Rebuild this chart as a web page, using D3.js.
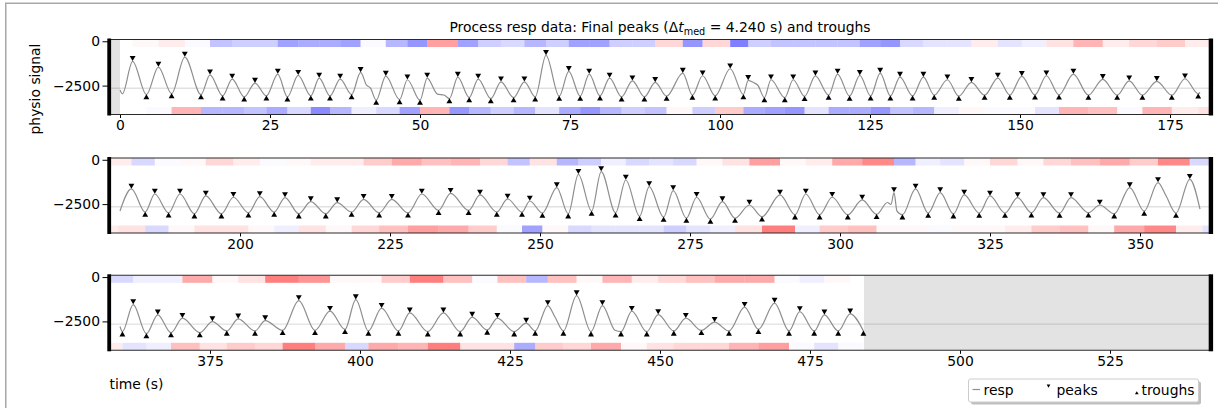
<!DOCTYPE html>
<html><head><meta charset="utf-8">
<script src="https://cdn.jsdelivr.net/npm/d3@7"></script>
<style>
body{margin:0;background:#fff;}
svg text{font-family:"DejaVu Sans",sans-serif;fill:#000;}
</style></head><body>
<svg id="c" width="1218" height="408"></svg>
<script>
// ---------------- data ----------------
const peakT = [2.1,6.4,10.8,15.0,18.7,22.5,26.3,29.7,33.2,36.7,40.1,44.3,47.9,51.2,56.3,59.7,63.5,67.4,71.0,74.8,78.2,81.6,85.4,89.2,93.8,97.1,101.7,104.7,108.5,112.2,115.9,119.6,123.3,126.7,130.0,133.9,137.9,141.9,146.3,150.3,154.4,158.9,163.8,168.2,172.8,177.5,
181.9,185.8,190.0,194.3,198.9,203.3,207.5,211.8,216.2,220.6,225.3,230.3,235.1,240.0,244.6,248.3,252.8,256.4,260.2,264.3,268.2,272.2,276.1,280.4,284.9,290.0,294.3,298.7,303.7,309.0,312.6,316.7,320.7,325.0,329.6,333.9,338.5,343.3,348.3,353.0,358.3,
362.2,366.3,370.4,375.4,379.7,384.2,389.8,395.0,399.3,403.6,408.3,413.9,418.7,422.9,427.7,431.3,436.1,440.4,445.3,449.7,454.3,459.1,464.1,469.1,473.3,477.4,481.7];
const peakV = [-1130,-1455,-890,-1890,-2130,-2360,-1850,-1920,-2075,-2130,-1755,-1965,-2170,-2075,-2020,-2130,-2285,-2285,-795,-1700,-1850,-2075,-2230,-2320,-1795,-1945,-1550,-2205,-2170,-2170,-1950,-1850,-1925,-1795,-2020,-2020,-2170,-2320,-2075,-1980,-1945,-1850,-2150,-2230,-2260,-2115,
-1645,-1930,-1930,-2040,-2115,-2075,-2130,-2360,-2415,-2230,-2230,-1930,-1890,-1985,-2210,-2325,-1570,-820,-665,-1140,-1510,-1735,-2115,-2360,-2550,-1985,-1930,-2115,-2265,-1850,-1645,-1850,-1985,-2040,-2130,-2130,-2130,-2550,-1570,-1285,-1100,
-1550,-2130,-2320,-2510,-2360,-2455,-1325,-1925,-1270,-1755,-2020,-2020,-2260,-2320,-2600,-1605,-1045,-1605,-1925,-2115,-2320,-2545,-1700,-1470,-1945,-2130,-2075];
const troughT = [4.4,8.6,13.5,17.1,20.7,24.4,27.9,31.8,35.0,38.6,42.7,46.6,50.0,54.9,58.2,61.8,65.6,69.2,73.2,76.7,80.0,83.6,87.4,91.1,95.4,99.2,103.9,107.4,110.8,114.1,118.1,121.6,125.1,128.4,132.1,135.7,139.8,144.1,148.3,152.5,156.5,161.4,166.2,170.4,175.3,179.7,
184.2,188.1,192.4,196.9,201.4,205.7,209.8,214.3,218.6,223.2,228.0,233.1,238.1,242.8,247.0,250.4,254.7,258.6,262.6,266.6,270.6,274.4,278.4,282.5,287.0,292.5,296.6,301.3,306.1,310.4,314.7,318.9,323.2,327.5,331.9,336.6,341.4,345.7,350.7,356.0,
360.4,364.4,368.5,373.3,377.8,382.5,387.1,392.5,397.5,401.4,406.4,411.3,416.7,421.2,425.7,429.2,433.9,438.5,443.5,447.8,452.3,456.9,461.5,466.4,471.5,475.7,479.7,483.9];
const troughV = [-3005,-2950,-3005,-3080,-3135,-3080,-3135,-3080,-3080,-3005,-3320,-3290,-3320,-3230,-3175,-3230,-3175,-3135,-3095,-3095,-3080,-3135,-3135,-3095,-3040,-3080,-3005,-3175,-3175,-3110,-3040,-3095,-3080,-3080,-3080,-3040,-3095,-3040,-3040,-3025,-3025,-3040,-3040,-3040,-3040,-2965,
-2950,-2990,-3045,-3045,-2990,-2950,-3045,-3045,-2950,-2990,-2995,-2855,-2855,-2950,-2950,-3005,-3045,-2895,-2990,-3190,-3230,-3290,-3345,-3290,-3215,-3100,-3100,-3100,-3080,-3100,-3005,-3045,-3005,-3005,-2990,-3005,-2990,-3045,-2895,-3005,
-3080,-3190,-3135,-3135,-3040,-3040,-3005,-3005,-2950,-3040,-3040,-3080,-3080,-2985,-3080,-3040,-3040,-3080,-3080,-3080,-3040,-3005,-3040,-2950,-3040,-3040,-3040,-3040];
// other visible signal points (segment ends, shoulders, spikes)
const extraT = [0, 0.4, 41.1, 41.7, 52.9, 54.0, 105.6, 106.3, 180, 307.9, 308.5, 309.5, 354.3, 360, 432.5, 442.5];
const extraV = [-2750, -2960, -2480, -2620, -2980, -3030, -2330, -2480, -2890, -2410, -2520, -2900, -2000, -2790, -2250, -3000];

const panelStarts = [0, 180, 360];
const panelSpan = 180;
const dataEnd = 484;
const medianInterval = 4.24;
const medianLevel = -2650;
const xTickValues = [0,25,50,75,100,125,150,175,200,225,250,275,300,325,350,375,400,425,450,475,500,525];
const yTickValues = [0, -2500];
const legendLabels = ["resp", "peaks", "troughs"];

// ---------------- layout ----------------
const L = 109.5, R = 1210.5, PH = 75, tops = [39.5, 158, 275.3];
const pad = 1.75;
const yDomain = [-4130, 100];
const FS = "13.9px";
const bandH = 7.5;
const svg = d3.select("#c");

svg.append("rect").attr("x",5.75).attr("y",3.25).attr("width",1400).attr("height",600)
  .attr("fill","none").attr("stroke","#a8a8a8").attr("stroke-width",1.5);

const bandColor = d3.scaleLinear().domain([-0.27,0,0.27])
  .range(["#0000ff","#ffffff","#ff0000"]).clamp(true);

const peaks = peakT.map((t,i)=>({t, v:peakV[i]}));
const troughs = troughT.map((t,i)=>({t, v:troughV[i]}));
const extras = extraT.map((t,i)=>({t, v:extraV[i]}));
const allPts = peaks.concat(troughs, extras).sort((a,b)=>a.t-b.t);

function intervals(arr){
  const out=[];
  for(let i=0;i<arr.length-1;i++){
    const d=arr[i+1].t-arr[i].t;
    out.push({t0:arr[i].t, t1:arr[i+1].t, dev:(d-medianInterval)/medianInterval});
  }
  return out;
}
const peakIv = intervals(peaks), troughIv = intervals(troughs);

panelStarts.forEach((s,k)=>{
  const top = tops[k], bot = top+PH;
  const x = d3.scaleLinear().domain([s-pad, s+panelSpan+pad]).range([L,R]);
  const y = d3.scaleLinear().domain(yDomain).range([bot, top]);
  const dStart = s, dEnd = Math.min(s+panelSpan, dataEnd);
  const g = svg.append("g");
  const cid = "clip"+k;
  g.append("clipPath").attr("id",cid).append("rect")
    .attr("x",L).attr("y",top).attr("width",R-L).attr("height",PH);
  const pg = g.append("g").attr("clip-path",`url(#${cid})`);

  // grey: no data
  if (x.domain()[0] < 0) pg.append("rect").attr("x",L).attr("y",top).attr("width",x(0)-L).attr("height",PH).attr("fill","#e3e3e3");
  if (x.domain()[1] > dataEnd) pg.append("rect").attr("x",x(dataEnd)).attr("y",top).attr("width",R-x(dataEnd)).attr("height",PH).attr("fill","#e3e3e3");

  // interval bands
  pg.selectAll(null).data(peakIv).join("rect")
    .attr("x",d=>x(d.t0)).attr("width",d=>x(d.t1)-x(d.t0))
    .attr("y",top).attr("height",bandH)
    .attr("fill",d=>bandColor(d.dev)).attr("fill-opacity",0.5);
  pg.selectAll(null).data(troughIv).join("rect")
    .attr("x",d=>x(d.t0)).attr("width",d=>x(d.t1)-x(d.t0))
    .attr("y",bot-bandH).attr("height",bandH)
    .attr("fill",d=>bandColor(d.dev)).attr("fill-opacity",0.5);

  // median level
  pg.append("line").attr("x1",L).attr("x2",R).attr("y1",y(medianLevel)).attr("y2",y(medianLevel))
    .attr("stroke","#000").attr("stroke-opacity",0.12).attr("stroke-width",1.3);

  // signal
  const pts = allPts.filter(p=>p.t>=dStart && p.t<=dEnd);
  pg.append("path").datum(pts)
    .attr("d", d3.line().x(p=>x(p.t)).y(p=>y(p.v)).curve(d3.curveMonotoneX))
    .attr("fill","none").attr("stroke","#8e8e8e").attr("stroke-width",1.2);

  const tri = d3.symbol().type(d3.symbolTriangle).size(15);
  pg.selectAll(null).data(peaks.filter(p=>p.t>=dStart && p.t<=dEnd)).join("path")
    .attr("d",tri).attr("transform",p=>`translate(${x(p.t)},${y(p.v)-3.6}) rotate(180)`).attr("fill","#000");
  pg.selectAll(null).data(troughs.filter(p=>p.t>=dStart && p.t<=dEnd)).join("path")
    .attr("d",tri).attr("transform",p=>`translate(${x(p.t)},${y(p.v)+3})`).attr("fill","#000");

  // axes
  const xa = g.append("g").attr("transform",`translate(0,${bot})`)
    .call(d3.axisBottom(x).tickValues(xTickValues.filter(v=>v>=x.domain()[0] && v<=x.domain()[1]))
      .tickSize(3.5).tickPadding(2.5).tickFormat(d3.format("d")));
  const ya = g.append("g").attr("transform",`translate(${L},0)`)
    .call(d3.axisLeft(y).tickValues(yTickValues).tickSize(7).tickPadding(2.5).tickFormat(d3.format("d")));
  [xa,ya].forEach(a=>{
    a.select(".domain").remove();
    a.attr("font-family",null).attr("font-size",null);
    a.selectAll("text").style("font-size",FS).attr("fill","#000");
    a.selectAll("line").attr("stroke","#000").attr("stroke-width",1);
  });

  // spines
  g.append("line").attr("x1",L).attr("x2",R).attr("y1",top).attr("y2",top).attr("stroke","#2a2a2a").attr("stroke-width",1.1);
  g.append("line").attr("x1",L).attr("x2",R).attr("y1",bot).attr("y2",bot).attr("stroke","#2a2a2a").attr("stroke-width",1.1);
  g.append("rect").attr("x",107.3).attr("y",top-1).attr("width",3.8).attr("height",PH+2).attr("fill","#000");
  g.append("rect").attr("x",1208.7).attr("y",top-1).attr("width",4.4).attr("height",PH+2).attr("fill","#000");
});

// title
const title = svg.append("text").attr("x",(L+R)/2).attr("y",31.5).attr("text-anchor","middle").style("font-size",FS);
title.append("tspan").text("Process resp data: Final peaks (Δ");
title.append("tspan").attr("font-style","italic").text("t");
title.append("tspan").attr("dy",3).style("font-size","9.7px").text("med");
title.append("tspan").attr("dy",-3).text(" = 4.240 s) and troughs");

// axis labels
svg.append("text").attr("transform","translate(39.5,89) rotate(-90)").attr("text-anchor","middle")
  .style("font-size",FS).text("physio signal");
svg.append("text").attr("x",109.5).attr("y",389).style("font-size",FS).text("time (s)");

// legend
const lg = svg.append("g");
lg.append("rect").attr("x",971).attr("y",381.5).attr("width",230).attr("height",23).attr("rx",2)
  .attr("fill","#000").attr("fill-opacity",0.25);
lg.append("rect").attr("x",968.5).attr("y",379).attr("width",230).attr("height",23).attr("rx",2)
  .attr("fill","#fff").attr("stroke","#cccccc").attr("stroke-width",1);
lg.append("line").attr("x1",972.5).attr("x2",980).attr("y1",389.5).attr("y2",389.5).attr("stroke","#8e8e8e").attr("stroke-width",1.2);
lg.append("text").attr("x",983.5).attr("y",394.5).style("font-size",FS).text(legendLabels[0]);
const ltri = d3.symbol().type(d3.symbolTriangle).size(6);
lg.append("path").attr("d",ltri).attr("transform","translate(1048.5,385.5) rotate(180)").attr("fill","#000");
lg.append("text").attr("x",1056.5).attr("y",394.5).style("font-size",FS).text(legendLabels[1]);
lg.append("path").attr("d",ltri).attr("transform","translate(1136.8,393.3)").attr("fill","#000");
lg.append("text").attr("x",1141.5).attr("y",394.5).style("font-size",FS).text(legendLabels[2]);
</script>
</body></html>
